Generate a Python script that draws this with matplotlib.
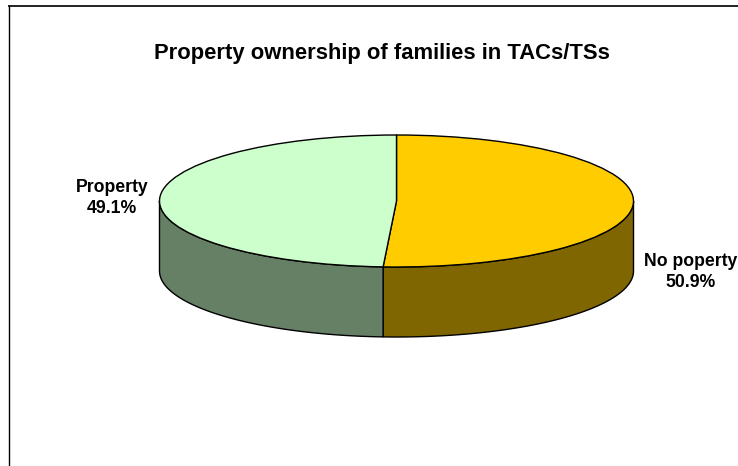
import numpy as np
from matplotlib import pyplot as plt

labels = ["No poperty", "Property"]
shares = [50.9, 49.1]
top_colors = ["#FFCC00", "#CCFFCC"]
side_colors = ["#806600", "#668066"]

W, H = 738, 466
# pie position in pixels
cx, cy = 396.5, 201
rx, ry = 237, 66
depth = 70

plt.rcParams['font.family'] = ['Liberation Sans', 'DejaVu Sans']

fig = plt.figure(figsize=(W / 100, H / 100), dpi=100)
ax = fig.add_axes([0, 0, 1, 1])

# top of the pie, in units where the ellipse is a unit circle
ax.pie(shares, colors=top_colors, startangle=90, counterclock=False,
       wedgeprops={'edgecolor': 'black', 'linewidth': 1.0, 'zorder': 3})
ax.set_aspect('auto')
ax.set_xlim(-cx / rx, (W - cx) / rx)
ax.set_ylim((cy - H) / ry, cy / ry)
ax.set_axis_off()

# side wall, only the front half of the circle can be seen
d = depth / ry
start = 90.0
for share, col in zip(shares, side_colors):
    end = start - share * 3.6
    lo, hi = max(end, -180), min(start, 0)
    t = np.radians(np.linspace(hi, lo, 200))
    xs = np.concatenate([np.cos(t), np.cos(t[::-1])])
    ys = np.concatenate([np.sin(t), np.sin(t[::-1]) - d])
    ax.fill(xs, ys, facecolor=col, edgecolor='black', linewidth=1.0, zorder=2)
    start = end

# frame: only top and left lines show
frame_x = 9 / W
frame_y = 1 - 5.5 / H
fig.add_artist(plt.Line2D([frame_x, 1], [frame_y, frame_y], color='#222222', lw=1.4))
fig.add_artist(plt.Line2D([frame_x, frame_x], [0, frame_y], color='black', lw=1.0))

fig.text(381.5 / W, 1 - 53 / H, "Property ownership of families in TACs/TSs",
         ha='center', va='center', fontsize=15.8, fontweight='bold')
fig.text(112 / W, 1 - 198 / H, f"{labels[1]}\n{shares[1]}%", ha='center', va='center',
         fontsize=12.7, fontweight='bold', linespacing=1.32)
fig.text(691 / W, 1 - 272 / H, f"{labels[0]}\n{shares[0]}%", ha='center', va='center',
         fontsize=12.7, fontweight='bold', linespacing=1.32)

fig.savefig("out.png", dpi=100)
